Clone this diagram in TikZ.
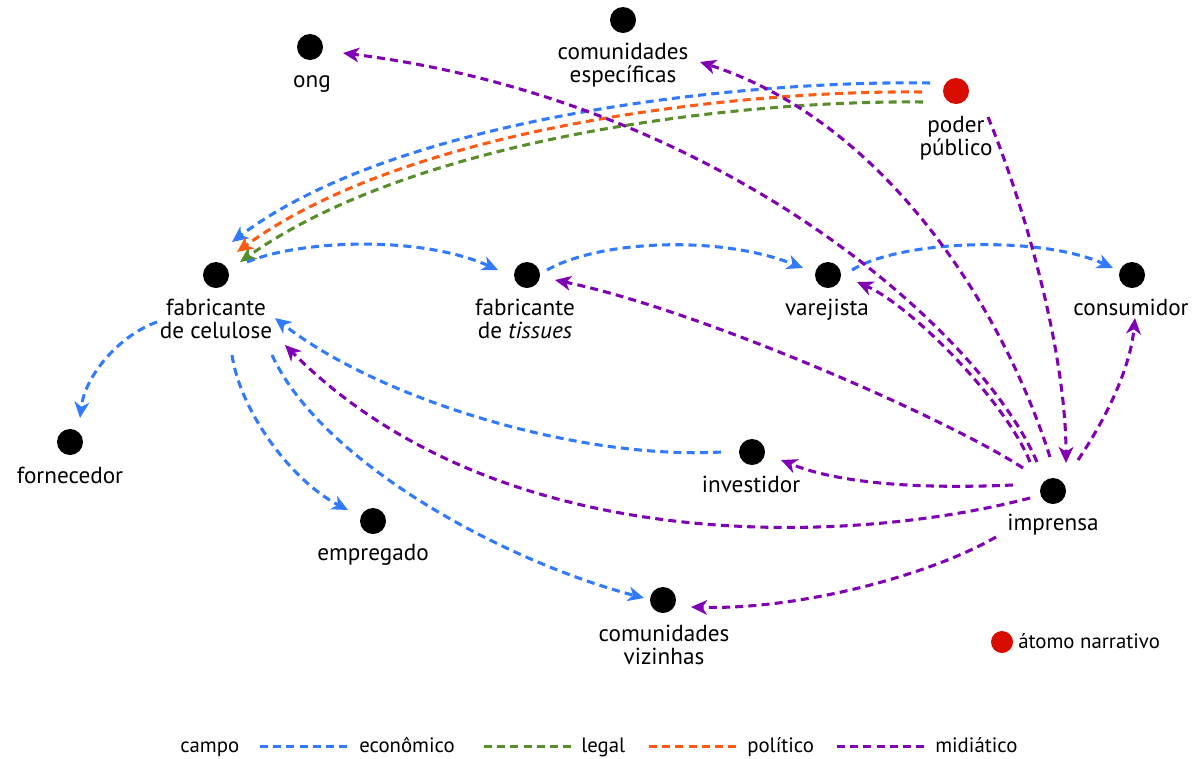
\documentclass[tikz,border=0pt]{standalone}
\usepackage{fontspec}
\setmainfont{PT Sans}
\usetikzlibrary{arrows.meta}
\definecolor{ecoc}{RGB}{49,121,255}
\definecolor{legc}{RGB}{88,142,42}
\definecolor{polc}{RGB}{255,90,20}
\definecolor{midc}{RGB}{128,0,180}
\definecolor{atomc}{RGB}{217,12,0}
\begin{document}
\begin{tikzpicture}[x=0.75pt,y=-0.75pt,
  dot/.style={circle,fill=black,inner sep=0pt,minimum size=19.5pt},
  lbl/.style={font=\fontsize{17.4}{17.25}\selectfont,inner sep=0pt,anchor=base,align=center},
  legtext/.style={font=\fontsize{15.6}{16}\selectfont,inner sep=0pt,anchor=base west},
  link/.style={line width=2.3pt,dash pattern=on 6pt off 3.9pt,
    -{Stealth[length=12pt,width=11pt,inset=3.5pt]}},
  eco/.style={link,draw=ecoc},
  lega/.style={link,draw=legc},
  pol/.style={link,draw=polc},
  mid/.style={link,draw=midc},
  legline/.style={line width=2.25pt,dash pattern=on 6pt off 3.9pt}
]
\useasboundingbox (0,0) rectangle (1202,758);

% actors
\node[dot] (ong) at (310,47) {};
\node[dot] (comesp) at (623,20) {};
\node[dot,fill=atomc] (poder) at (956,91) {};
\node[dot] (fcel) at (216,275) {};
\node[dot] (ftis) at (527,275) {};
\node[dot] (var) at (828,275) {};
\node[dot] (cons) at (1132,275) {};
\node[dot] (forn) at (70,442) {};
\node[dot] (inv) at (752,452) {};
\node[dot] (imp) at (1053,491) {};
\node[dot] (emp) at (373,521) {};
\node[dot] (comviz) at (663,600) {};

% economic, legal and political fields
\draw[eco] ([shift={(-26,-8)}]poder.center) .. controls (750,80) and (400,115) .. ([shift={(16,-33)}]fcel.center);
\draw[lega] ([shift={(-33,11)}]poder.center) .. controls (745,100) and (420,135) .. ([shift={(24,-13)}]fcel.center);
\draw[pol] ([shift={(-34,1)}]poder.center) .. controls (745,90) and (410,125) .. ([shift={(21,-23)}]fcel.center);
\draw[eco] ([shift={(31,-13)}]fcel.center) .. controls (300,240) and (420,235) .. ([shift={(-29,-5)}]ftis.center);
\draw[eco] ([shift={(20,-5)}]ftis.center) .. controls (600,240) and (720,235) .. ([shift={(-25,-7)}]var.center);
\draw[eco] ([shift={(24,-5)}]var.center) .. controls (900,240) and (1040,235) .. ([shift={(-19,-7)}]cons.center);
\draw[eco] ([shift={(-59,47)}]fcel.center) .. controls (120,335) and (85,375) .. ([shift={(10,-24)}]forn.center);
\draw[eco] ([shift={(16,80)}]fcel.center) .. controls (240,410) and (290,480) .. ([shift={(-25,-11)}]emp.center);
\draw[eco] ([shift={(56,80)}]fcel.center) .. controls (320,460) and (500,560) .. ([shift={(-19,-2)}]comviz.center);
\draw[eco] ([shift={(-31,0)}]inv.center) .. controls (580,460) and (380,400) .. ([shift={(59,43)}]fcel.center);

% media field
\draw[mid] ([shift={(32,26)}]poder.center) .. controls (1030,220) and (1066,360) .. ([shift={(13,-28)}]imp.center);
\draw[mid] ([shift={(25,-31)}]imp.center) .. controls (1105,420) and (1130,370) .. ([shift={(3,43)}]cons.center);
\draw[mid] ([shift={(-40,-6)}]imp.center) .. controls (900,490) and (830,480) .. ([shift={(29,8)}]inv.center);
\draw[mid] ([shift={(-23,7)}]imp.center) .. controls (850,545) and (500,560) .. ([shift={(69,70)}]fcel.center);
\draw[mid] ([shift={(-57,46)}]imp.center) .. controls (930,575) and (800,610) .. ([shift={(28,7)}]comviz.center);
\draw[mid] ([shift={(-30,-23)}]imp.center) .. controls (950,420) and (700,310) .. ([shift={(28,5)}]ftis.center);
\draw[mid] ([shift={(-23,-29)}]imp.center) .. controls (1005,400) and (910,305) .. ([shift={(29,7)}]var.center);
\draw[mid] ([shift={(-3,-34)}]imp.center) .. controls (1000,300) and (880,120) .. ([shift={(77,42)}]comesp.center);
\draw[mid] ([shift={(-16,-29)}]imp.center) .. controls (980,330) and (720,100) .. ([shift={(33,6)}]ong.center);

% labels (base = baseline of the last line)
\node[lbl] (ong-t) at (312,87) {ong};
\node[lbl] (comesp-t) at (623,82) {comunidades\\específicas};
\node[lbl] (poder-t) at (956,155) {poder\\público};
\node[lbl] (fcel-t) at (216,338) {fabricante\\de celulose};
\node[lbl] (ftis-t) at (525,338) {fabricante\\de \textit{tissues}};
\node[lbl] (var-t) at (827,315) {varejista};
\node[lbl] (cons-t) at (1131,315) {consumidor};
\node[lbl] (forn-t) at (70,483) {fornecedor};
\node[lbl] (inv-t) at (751,492) {investidor};
\node[lbl] (imp-t) at (1053,530) {imprensa};
\node[lbl] (emp-t) at (373,560) {empregado};
\node[lbl] (comviz-t) at (664,664) {comunidades\\vizinhas};

% key
\node[dot,fill=atomc,minimum size=16.5pt] (atomo) at (1002,642) {};
\node[legtext] (atomo-t) at (1018,648) {átomo narrativo};
\node[legtext] (campo) at (180,752) {campo};
\draw[legline,draw=ecoc] (260,746) -- (351,746);
\node[legtext] (k-eco) at (359,752) {econômico};
\draw[legline,draw=legc] (484,746) -- (576,746);
\node[legtext] (k-leg) at (581,752) {legal};
\draw[legline,draw=polc] (649,746) -- (739,746);
\node[legtext] (k-pol) at (747,752) {político};
\draw[legline,draw=midc] (837,746) -- (927,746);
\node[legtext] (k-mid) at (935,752) {midiático};
\end{tikzpicture}
\end{document}
